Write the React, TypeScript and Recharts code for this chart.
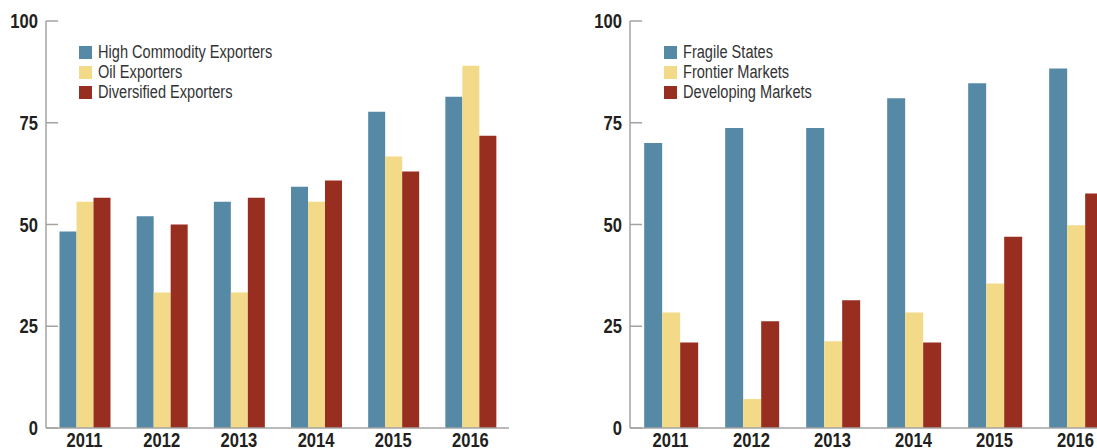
import { BarChart, Bar, XAxis, YAxis } from "recharts";

const years = ["2011", "2012", "2013", "2014", "2015", "2016"];

const highCommodity = [48.3, 52, 55.6, 59.3, 77.7, 81.4];
const oilExporters = [55.6, 33.3, 33.3, 55.6, 66.7, 89];
const diversified = [56.6, 50, 56.6, 60.8, 63, 71.8];

const fragile = [70, 73.7, 73.7, 81, 84.7, 88.3];
const frontier = [28.4, 7.1, 21.3, 28.4, 35.5, 49.8];
const developing = [21, 26.2, 31.4, 21, 47, 57.6];

const yTicks = [0, 25, 50, 75, 100];

const BLUE = "#5589a6";
const YELLOW = "#f3da88";
const RED = "#972e20";
const AXIS = "#a3a3a3";
const INK = "#231f20";
const FONT = '"Liberation Sans", Arial, sans-serif';

const leftData = years.map((year, i) => ({
  year,
  a: highCommodity[i],
  b: oilExporters[i],
  c: diversified[i],
}));

const rightData = years.map((year, i) => ({
  year,
  a: fragile[i],
  b: frontier[i],
  c: developing[i],
}));

// condensed look: squeeze the text horizontally
const YTick = (props: any) => {
  const { x, y, payload } = props;
  return (
    <g>
      <line x1={x} y1={y} x2={x + 12} y2={y} stroke={AXIS} strokeWidth={1.5} />
      <text
        transform={`translate(${x - 8},${y}) scale(0.85,1)`}
        dy="0.36em"
        textAnchor="end"
        fontFamily={FONT}
        fontWeight="bold"
        fontSize={19.5}
        fill={INK}
      >
        {payload.value}
      </text>
    </g>
  );
};

const XTick = (props: any) => {
  const { x, y, payload } = props;
  return (
    <text
      transform={`translate(${x},${y}) scale(0.85,1)`}
      dy="0.72em"
      textAnchor="middle"
      fontFamily={FONT}
      fontWeight="bold"
      fontSize={19.5}
      fill={INK}
    >
      {payload.value}
    </text>
  );
};

function LegendBox({ names, left }: { names: string[]; left: number }) {
  return (
    <div
      style={{
        position: "absolute",
        left,
        top: 42,
        fontFamily: FONT,
        fontSize: 18,
        color: "#333",
      }}
    >
      {names.map((n, i) => (
        <div key={n} style={{ display: "flex", alignItems: "center", height: 20 }}>
          <span
            style={{
              width: 13,
              height: 13,
              background: [BLUE, YELLOW, RED][i],
              marginRight: 6,
              display: "inline-block",
            }}
          />
          <span
            style={{
              display: "inline-block",
              transform: "scaleX(0.81)",
              transformOrigin: "left center",
              whiteSpace: "nowrap",
            }}
          >
            {n}
          </span>
        </div>
      ))}
    </div>
  );
}

function Panel({
  data,
  width,
}: {
  data: { year: string; a: number; b: number; c: number }[];
  width: number;
}) {
  return (
    <BarChart
      width={width}
      height={448}
      data={data}
      margin={{ top: 21, right: 0, bottom: 0, left: 0 }}
      barCategoryGap="17.5%"
      barGap={0}
    >
      <XAxis
        dataKey="year"
        height={20}
        interval={0}
        tickLine={false}
        tickSize={0}
        tickMargin={5}
        axisLine={{ stroke: AXIS, strokeWidth: 1.5 }}
        tick={<XTick />}
      />
      <YAxis
        width={46}
        domain={[0, 100]}
        ticks={yTicks}
        tickLine={false}
        tickSize={0}
        tickMargin={0}
        axisLine={{ stroke: AXIS, strokeWidth: 1.5 }}
        tick={<YTick />}
      />
      <Bar dataKey="a" fill={BLUE} isAnimationActive={false} />
      <Bar dataKey="b" fill={YELLOW} isAnimationActive={false} />
      <Bar dataKey="c" fill={RED} isAnimationActive={false} />
    </BarChart>
  );
}

export default function App() {
  return (
    <div
      style={{
        position: "absolute",
        left: 0,
        top: 0,
        width: 1097,
        height: 448,
        overflow: "hidden",
        background: "#fff",
      }}
    >
      <div style={{ position: "absolute", left: 0, top: 0 }}>
        <Panel data={leftData} width={509} />
      </div>
      <div style={{ position: "absolute", left: 584, top: 0 }}>
        <Panel data={rightData} width={532} />
      </div>
      <LegendBox
        left={79}
        names={["High Commodity Exporters", "Oil Exporters", "Diversified Exporters"]}
      />
      <LegendBox
        left={664}
        names={["Fragile States", "Frontier Markets", "Developing Markets"]}
      />
    </div>
  );
}
